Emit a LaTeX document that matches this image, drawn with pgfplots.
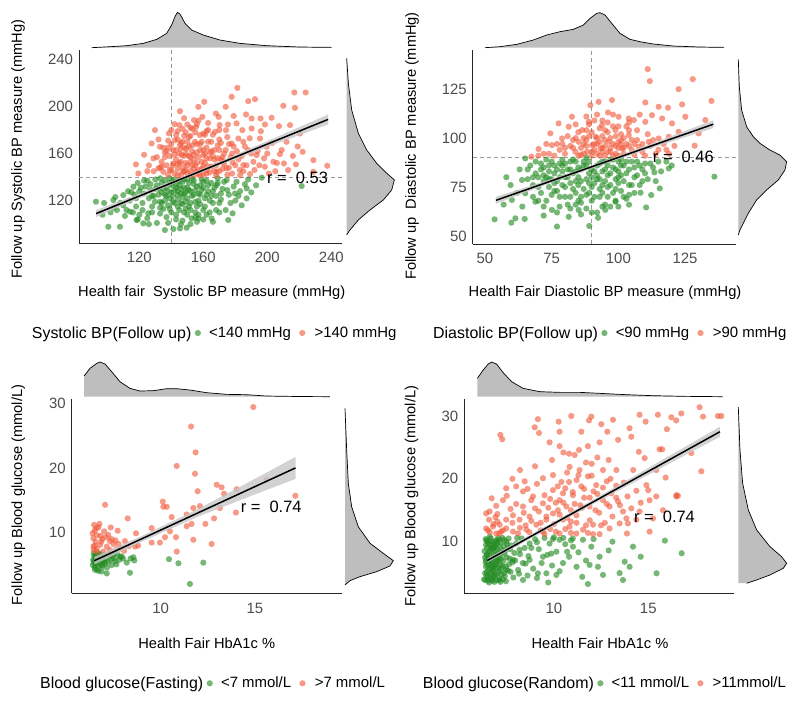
\documentclass[border=0pt]{standalone}
\usepackage{fontspec}
\setmainfont{Liberation Sans}
\usepackage{pgfplots}
\pgfplotsset{compat=1.18}
\definecolor{pgreen}{RGB}{34,139,34}
\definecolor{pred}{RGB}{240,90,60}
\definecolor{mgray}{RGB}{190,190,190}
\tikzset{rlab/.style={anchor=west, inner sep=0pt, font=\fontsize{16.5}{18}\selectfont}}
\newcommand{\lgt}[1]{\fontsize{16}{18}\selectfont #1}
\pgfplotsset{
  mainax/.style={scale only axis, anchor=south west, axis x line=bottom, axis y line=left,
    axis line style={-, line width=0.8bp, draw=black!85}, major tick length=0pt,
    tick label style={font=\fontsize{15}{17}\selectfont, text=black!70},
    /pgf/number format/assume math mode=true, clip mode=individual,
    label style={font=\fontsize{14.7}{16}\selectfont},
    xticklabel style={yshift=-6bp}, yticklabel style={xshift=-2.5bp},
    legend columns=-1,
    legend style={draw=none, fill=none, font=\fontsize{15}{17}\selectfont, anchor=west, inner sep=0pt,
      nodes={inner sep=0pt},
      /tikz/column 1/.style={column sep=0pt},
      /tikz/column 2/.style={column sep=3.4bp},
      /tikz/column 3/.style={column sep=8.2bp},
      /tikz/column 4/.style={column sep=8.2bp},
      /tikz/column 5/.style={column sep=9.2bp}},
    legend image code/.code={\draw[##1] plot coordinates {(0bp,0bp)};}},
  margax/.style={scale only axis, anchor=south west, hide axis, clip=false},
  scatG/.style={only marks, mark=*, color=pgreen, mark size=3.1bp, mark options={draw opacity=0, fill=pgreen, fill opacity=0.62}},
  scatR/.style={only marks, mark=*, color=pred, mark size=3.1bp, mark options={draw opacity=0, fill=pred, fill opacity=0.62}},
  band/.style={fill=black!22, draw=none, fill opacity=0.8, forget plot},
  regline/.style={black, line width=1.5bp, forget plot},
  refline/.style={black!40, dash pattern=on 4bp off 3bp, line width=0.6bp, forget plot},
  dens/.style={fill=mgray, draw=none},
  densline/.style={black, line width=0.7bp},
}
\begin{document}
\begin{tikzpicture}
\useasboundingbox (0bp,0bp) rectangle (800bp,705bp);

%================ Panel 1 =================
\begin{axis}[mainax, at={(79bp,462bp)}, width=263bp, height=193bp,
  xmin=82.3, xmax=246.7, ymin=84, ymax=248,
  xtick={120,160,200,240}, ytick={120,160,200,240},
  xlabel={Health fair\ \ Systolic BP measure (mmHg)},
  ylabel={Follow up Systolic BP measure (mmHg)},
  xlabel style={at={(axis description cs:0.5046,-0.259)}, anchor=center},
  ylabel style={at={(axis description cs:-0.232,0.487)}, anchor=center},
  legend style={at={(axis description cs:-0.1798,-0.4663)}}]
\addlegendimage{empty legend}\addlegendentry{\lgt{Systolic BP(Follow up)}}
\addplot[refline] coordinates {(140,84) (140,248)};
\addplot[refline] coordinates {(82.3,140) (246.7,140)};
\addplot[scatG] coordinates {
(92.9,119.1)(103.8,120.5)(110,124.7)(116.3,131.8)(100.6,97.8)(107.9,97.8)(114.2,110.6)(118.3,103.5)
(122.5,100.7)(125.6,109.2)(129.8,119.1)(136,95)(141.3,95.9)(145.4,96.4)(149.6,97)(152.7,104.9)
(156.9,104.9)(165.2,104.9)(175.6,103.5)(178.3,109.2)(187.1,121.9)(187.1,130.4)(179.8,126.1)(180.8,136)
(174.6,137.5)(168.3,133.2)(196.5,139.5)(221.5,132.4)
(130,130)(132,125)(134,135)(136,120)(138,128)(140,133)(142,118)(144,125)(146,130)(148,138)(150,122)
(152,128)(154,134)(156,115)(158,125)(160,131)(162,137)(164,120)(166,128)(168,124)(145,112)(140,110)
(135,113)(150,108)(143,104)(137,106)(155,110)(160,112)(170,118)(172,130)(176,125)(180,120)(126,122)
(124,132)(120,128)(118,115)(114,120)(112,112)(108,118)(128,115)(133,109)(147,117)(151,135)(157,120)
(159,138)(163,128)(139,139)(145,137)(153,139)(130,138)(136,137)(141,124)(149,127)(155,129)(142,129)
(147,123)(138,116)(125,105)(120,108)(131,101)(146,100)(156,102)(162,108)(174,112)(183,128)(186,134)
(143,134)(148,131)(152,118)(144,115)(139,122)(134,127)(128,124)(122,118)(117,125)(111,107)(106,112)
(141,136)(146,126)(150,131)(154,125)(158,133)(161,122)(165,135)(169,139)(171,126)(157,108)(149,113)
(137,131)(133,119)(127,134)(123,137)(119,135)(115,127)(104,114)(97,108)
(121,131)(123,126)(125,137)(127,129)(129,124)(131,133)(133,139)(135,130)(137,124)(139,135)(140,127)
(141,119)(142,138)(143,131)(144,121)(145,133)(146,118)(147,136)(148,126)(149,119)(150,138)(151,129)
(152,112)(153,124)(154,137)(155,119)(156,132)(157,126)(158,117)(159,129)(160,136)(161,115)(162,125)
(163,133)(164,110)(165,124)(166,118)(167,131)(168,112)(169,135)(171,121)(173,136)(175,129)(177,118)
(179,132)(182,124)(184,116)(188,138)(190,127)(193,133)(143,108)(147,103)(152,100)(138,101)(133,114)
(128,110)(118,122)(116,110)(113,128)(110,116)(105,123)(102,110)(98,118)(148,110)(155,106)(160,104)
(166,102)(170,110)(136,125)(134,118)(132,130)(144,128)(151,115)(139,113)(122,112)(119,104)(126,100)
};
\addlegendentry{<140 mmHg}
\addplot[scatR] coordinates {
(181.3,215.8)(216.9,211.9)(224,211.9)(177.7,208.2)(160.6,204)(192.3,206.2)(188.1,204.5)(210,200.6)
(217.3,198.9)(174,199.7)(156.9,199.7)(145.4,196)(167.9,194)(179,192)(186.7,193.2)(190.2,189.8)
(195.8,189.8)(202.7,190.4)(198.5,184.7)(207.3,183.3)(214.2,184.2)(150,184.7)(145,184.2)(154.2,188.4)
(159.4,191.2)(169.6,191.2)(170.2,184.2)(175.4,184.7)(180.8,185.6)(129.8,179.9)(138.5,177.1)(144,179.1)
(162.1,179.1)(155.4,182.7)(167.3,178.5)(174.2,179.9)(184.4,179.9)(190.2,181.3)(195.4,172.8)(177.7,168.6)
(181.9,172.8)(188.1,162.9)(193.3,158.7)(199.6,165.8)(207.9,159.5)(210.4,151.6)(217.9,150.8)(220.4,177.1)
(222.1,161.5)(228.8,154.4)(237.5,149.6)(228.8,144.5)(203.8,153)(198.5,148.8)(189.2,142.6)(182.9,146)
(178.3,152.5)(172.5,153)(164.2,155.9)(117.9,150.8)(119.4,143.1)(128.8,155.9)(132.9,165.8)(137.1,162.1)
(127.7,168.6)(142.3,171.4)(145.4,167.2)(149.6,164.3)(151.7,157.3)(154.8,170)(157.9,175.7)(160,158.7)
(146.5,158.7)(141.3,151.6)(135,144.5)(131.9,147.4)(147.5,144.5)(155.8,144.5)(162.1,146)(168.3,144.5)
(174.6,147.4)(185,150.2)(191.3,153)
(141,150)(143,155)(145,160)(147,148)(149,152)(151,158)(153,162)(155,150)(157,146)(159,153)(161,160)
(163,149)(142,143)(144,147)(146,153)(148,165)(150,170)(152,145)(154,155)(156,168)(158,142)(160,149)
(162,165)(164,144)(166,158)(168,150)(170,163)(172,147)(139,158)(137,150)(135,165)(133,148)(131,157)
(129,145)(146,142)(150,143)(155,142)(138,142)(152,175)(144,172)(140,168)(165,170)(148,158)(153,150)
(157,157)(160,142)(167,145)(171,155)(175,142)(178,160)(176,168)(182,155)(185,145)(195,150)(200,160)
(205,145)(212,170)(185,170)(190,160)(170,172)(163,180)(149,178)(156,185)(143,163)(136,157)(147,170)
(151,166)(158,163)(162,156)(154,147)(144,151)(149,146)(152,153)(156,161)(142,159)(146,164)(140,146)
(161,152)(165,162)(169,167)(148,175)(153,181)(159,170)(134,153)(167,155)(173,160)
(134,149)(136,161)(138,171)(139,146)(141,163)(143,176)(144,141.5)(145,152)(146,169)(147,181)(148,145)
(149,160)(150,150)(151,174)(152,141.5)(153,167)(154,159)(155,178)(156,152)(157,143)(158,168)(159,147)
(160,163)(161,176)(162,143)(163,170)(164,161)(165,149)(166,176)(167,163)(168,141.5)(169,156)(170,145)
(171,169)(172,157)(173,151)(174,163)(175,174)(176,148)(177,157)(178,143)(179,166)(180,150)(181,162)
(183,141.5)(184,158)(186,166)(187,150)(189,173)(192,146)(194,162)(196,179)(198,156)(201,143)(203,169)
(206,152)(209,163)(213,146)(216,158)(219,166)(142,185)(148,190)(157,188)(163,186)(170,180)(138,165)
(132,172)(126,150)(123,159)(125,145)(140,180)(152,182)(160,177)
};
\addlegendentry{>140 mmHg}
\addplot[band] coordinates {(93,106)(120,121.9)(145,136.4)(170,149.9)(200,165.4)(238,184.8)
 (238,193.2)(200,170.6)(170,153.1)(145,139)(120,125.9)(93,112)};
\addplot[regline] coordinates {(93,109) (238,189)};
\node[rlab] at (axis cs:199.8,139.3) {r =\ \ 0.53};
\end{axis}
\begin{axis}[margax, at={(79bp,657.3bp)}, width=263bp, height=43.33bp, xmin=82.3, xmax=246.7, ymin=0, ymax=130]
\addplot[dens] coordinates {(90.25,0)(101.7,3)(112.1,6)(122.5,13)(130.9,25)(137.1,43)(140.2,68)(142.3,93)
 (143.8,106)(145.4,101)(148.6,73)(152.7,53)(160,38)(170.4,23)(182.9,13)(199.6,6)(220.4,2)(240.25,1)(240.25,0)};
\addplot[densline] coordinates {(90.25,0)(101.7,3)(112.1,6)(122.5,13)(130.9,25)(137.1,43)(140.2,68)(142.3,93)
 (143.8,106)(145.4,101)(148.6,73)(152.7,53)(160,38)(170.4,23)(182.9,13)(199.6,6)(220.4,2)(240.25,1)};
\end{axis}
\begin{axis}[margax, at={(346.7bp,462bp)}, width=53.33bp, height=193bp, xmin=0, xmax=160, ymin=84, ymax=248]
\addplot[dens] coordinates {(0,240.9)(5,219.7)(15,197)(35,177.2)(60,163)(90,151.7)(120,143.3)(143,137.6)
 (135,129.1)(110,120.6)(70,112.1)(35,103.6)(10,95.1)(0,90.9)};
\addplot[densline] coordinates {(0,240.9)(5,219.7)(15,197)(35,177.2)(60,163)(90,151.7)(120,143.3)(143,137.6)
 (135,129.1)(110,120.6)(70,112.1)(35,103.6)(10,95.1)(0,90.9)};
\end{axis}

%================ Panel 2 =================
\begin{axis}[mainax, at={(472.7bp,461bp)}, width=263.3bp, height=194bp,
  xmin=45.4, xmax=144.1, ymin=45.9, ymax=145,
  xtick={50,75,100,125}, ytick={50,75,100,125},
  xlabel={Health Fair Diastolic BP measure (mmHg)},
  ylabel={Follow up\ \ Diastolic BP measure (mmHg)},
  xlabel style={at={(axis description cs:0.5025,-0.2526)}, anchor=center},
  ylabel style={at={(axis description cs:-0.2305,0.505)}, anchor=center},
  legend style={at={(axis description cs:-0.1508,-0.4588)}}]
\addlegendimage{empty legend}\addlegendentry{\lgt{Diastolic BP(Follow up)}}
\addplot[refline] coordinates {(90,45.9) (90,145)};
\addplot[refline] coordinates {(45.4,90) (144.1,90)};
\addplot[scatG] coordinates {
(53.6,58.5)(61.4,59)(64.9,58.7)(59.9,56.8)(77,54.8)(89.1,55.1)(92.4,59.3)(81.4,59.8)(72,60.4)(75.1,63.3)
(85.1,63.3)(95.1,63.3)(98.9,67.5)(110.4,64.6)(108.3,72.1)(112.3,70.9)(115.5,74.3)(113.5,82.5)(118.9,84.5)
(136,80.3)(59.6,76)(63.9,78.6)(65.1,89.6)(60.1,68.4)(65.1,71.8)(68.9,67.5)
(70,80)(72,85)(74,75)(76,82)(78,70)(80,87)(82,77)(84,72)(86,84)(88,79)(90,68)(92,86)(94,76)(96,81)(98,72)
(100,88)(102,78)(104,84)(106,80)(108,86)(71,72)(73,68)(75,88)(77,78)(79,83)(81,66)(83,89)(85,80)(87,74)
(89,82)(91,77)(93,70)(95,88)(97,65)(99,79)(101,73)(103,69)(105,76)(107,88)(110,82)(112,87)(115,88)(68,76)
(66,84)(69,88)(80,75)(85,76)(90,80)(95,84)(100,83)(92,62)(88,64)(84,66)(96,70)(78,65)
(72,78)(74,83)(76,73)(78,87)(80,80)(82,84)(84,78)(86,70)(88,86)(90,75)(92,81)(94,88)(96,75)(98,85)
(100,77)(102,86)(104,71)(91,83)(93,79)(87,88)(83,82)(79,76)(75,79)(71,87)(94,65)(89,72)(97,89)(101,81)
(106,85)(109,78)(103,88)(99,74)(86,67)(82,70)(77,84)(73,80)
(66,79)(67,86)(68,70)(69,82)(70,75)(71,84)(72,65)(73,89)(74,79)(75,71)(76,86)(77,73)(78,80)(79,89)(80,70)
(81,80)(82,88)(83,74)(84,83)(85,68)(86,78)(87,86)(88,71)(89,88)(90,84)(91,70)(92,79)(93,87)(94,72)(95,78)
(96,86)(97,76)(98,89)(99,68)(100,80)(101,86)(102,70)(103,82)(104,76)(105,88)(106,72)(107,81)(108,76)
(109,84)(110,87)(111,79)(113,85)(114,78)(116,83)(118,88)(120,86)(90,62)(86,61)(95,66)(100,65)(104,66)
(82,64)(77,62)(93,74)(97,82)(89,77)(85,85)(81,84)(76,77)(72,81)(68,80)(63,84)(62,72)(58,80)(57,66)(64,65)
(70,68)(99,84)(101,89)(94,83)(88,90)(84,88)(79,86)(74,86)
};
\addlegendentry{<90 mmHg}
\addplot[scatR] coordinates {
(111,135.2)(111.8,129.1)(127.9,130.1)(122.6,125)(134.9,119)(123.9,117.2)(118.6,115.5)(110.1,118.2)
(115.1,116)(97.6,119.4)(92.6,118.5)(89.5,116.8)(96.1,113.1)(100.1,110.9)(103.9,110)(105.8,109.2)
(110.1,108.3)(112.6,111.7)(116.4,110)(120.1,107.5)(125.1,110.9)(132.6,109.2)(130.1,102.4)(128.6,96.1)
(122.6,103.2)(118.9,100.7)(115.1,99.8)(111.4,98.1)(107.6,95.6)(82.6,110.9)(77.6,107.5)(74.5,102.4)
(70.1,94.4)(67.4,90.5)(75.1,96.4)(78.9,99.8)(81.4,105.8)(85.1,98.1)(86.4,104.1)(83.9,93)(88.9,108.3)
(91.4,100.7)(93.9,106.6)(96.4,98.1)(98.9,104.1)(101.4,94.7)(103.9,101.5)(93.3,94.7)(90.1,96.4)(88.3,93)
(86,95)(88,99)(90,103)(92,97)(94,101)(96,93)(98,106)(100,98)(102,92)(104,104)(87,92)(91,94)(95,96)(99,92)
(103,97)(97,100)(93,105)(89,107)(101,102)(105,94)(84,100)(82,96)(80,92)(78,94)(76,91)(107,99)(109,93)
(112,96)(94,109)(98,112)(92,92)(100,95)(106,91.5)(110,91)(114,92)(118,94)(95,91)(85,91)(72,92)(70,91)
(90,93)(94,95)(98,97)(102,100)(96,103)(92,100)(88,96)(104,96)(100,91)
(79,97)(81,101)(83,95)(85,103)(87,97)(89,101)(91,109)(93,98)(95,104)(97,95)(99,101)(101,97)(103,106)
(105,99)(107,104)(109,97)(111,102)(113,99)(115,94)(117,97)(119,92)(121,96)(88,111)(92,112)(96,108)
(100,106)(104,108)(108,112)(86,91.5)(90,91)(94,93)(98,91)(102,95)(106,97)(97,93)(93,91)(99,96)(101,99)
(95,99)(91,97)(87,100)(83,99)(80,95)(77,97)(74,92)(73,97)(84,107)(88,104)
};
\addlegendentry{>90 mmHg}
\addplot[band] coordinates {(54.1,66.4)(70,74.7)(90,84.6)(110,93.8)(135.6,105.1)
 (135.6,109.1)(110,96)(90,86)(70,76.9)(54.1,70)};
\addplot[regline] coordinates {(54.1,68.2) (135.6,107.1)};
\node[rlab] at (axis cs:112.9,90.6) {r =\ \ 0.46};
\end{axis}
\begin{axis}[margax, at={(472.7bp,657.3bp)}, width=263.3bp, height=43.33bp, xmin=45.4, xmax=144.1, ymin=0, ymax=130]
\addplot[dens] coordinates {(50,0)(55.6,3)(61.9,10)(68.1,23)(73.1,38)(78.1,48)(83.1,55)(86.9,68)(89.4,88)
 (91.9,103)(93.1,105)(95,98)(97.5,73)(100.6,43)(104.4,25)(108.1,18)(113.1,11)(120.6,5)(130.6,2)(139.6,1)(139.6,0)};
\addplot[densline] coordinates {(50,0)(55.6,3)(61.9,10)(68.1,23)(73.1,38)(78.1,48)(83.1,55)(86.9,68)(89.4,88)
 (91.9,103)(93.1,105)(95,98)(97.5,73)(100.6,43)(104.4,25)(108.1,18)(113.1,11)(120.6,5)(130.6,2)(139.6,1)};
\end{axis}
\begin{axis}[margax, at={(738.3bp,461bp)}, width=53.33bp, height=194bp, xmin=0, xmax=160, ymin=45.9, ymax=145]
\addplot[dens] coordinates {(0,140.2)(3,126.2)(10,114.3)(25,105.8)(45,100.7)(65,97.3)(95,93.9)(125,91.3)
 (145,87.9)(140,83.7)(120,78.6)(85,73.5)(55,68.4)(30,61.6)(15,56.5)(5,53.1)(0,50.5)};
\addplot[densline] coordinates {(0,140.2)(3,126.2)(10,114.3)(25,105.8)(45,100.7)(65,97.3)(95,93.9)(125,91.3)
 (145,87.9)(140,83.7)(120,78.6)(85,73.5)(55,68.4)(30,61.6)(15,56.5)(5,53.1)(0,50.5)};
\end{axis}

%================ Panel 3 =================
\begin{axis}[mainax, at={(71.7bp,111.7bp)}, width=270bp, height=194bp,
  xmin=5.28, xmax=19.6, ymin=0.63, ymax=30.6,
  xtick={10,15}, ytick={10,20,30},
  xlabel={Health Fair HbA1c \%},
  ylabel={Follow up Blood glucose (mmol/L)},
  xlabel style={at={(axis description cs:0.5,-0.2577)}, anchor=center},
  ylabel style={at={(axis description cs:-0.1978,0.507)}, anchor=center},
  legend style={at={(axis description cs:-0.1174,-0.4639)}}]
\addlegendimage{empty legend}\addlegendentry{\lgt{Blood glucose(Fasting)}}
\addplot[scatG] coordinates {
(11.55,2.07)(8.37,3.8)(10.44,5.9)(10.94,5.27)(12.26,5.37)(8.55,6.2)(8.2,5.37)(7.93,6.3)(7.14,3.7)(6.87,4.0)
(6.52,4.25)(6.4,5.0)(6.45,5.5)(6.5,6.0)(6.5,4.6)(6.55,6.5)(6.6,5.2)(6.65,4.3)(6.7,5.8)(6.75,6.8)(6.8,5.0)
(6.85,6.2)(6.9,4.8)(6.95,5.6)(7.0,6.5)(7.05,5.2)(7.1,6.0)(7.2,5.5)(7.3,6.4)(7.4,5.0)(7.5,6.0)(7.6,5.6)
(7.7,6.6)(7.8,5.8)(6.45,6.8)(6.6,6.3)(6.7,4.1)(6.5,5.3)(6.9,5.9)(7.15,4.6)(7.35,5.8)(8.0,6.0)(8.4,6.0)(8.6,5.7)
(6.42,5.8)(6.55,4.9)(6.62,5.6)(6.72,6.1)(6.82,5.4)(6.95,6.3)(7.25,6.7)(7.45,6.4)(6.48,6.4)(6.68,6.6)
(6.58,5.9)(6.78,6.5)(7.02,5.5)(7.55,6.8)(7.85,6.3)(6.88,5.0)(7.65,5.1)
};
\addlegendentry{<7 mmol/L}
\addplot[scatR] coordinates {
(14.91,29.4)(11.61,26.4)(11.85,22.4)(10.85,20.3)(11.82,19.1)(12.97,17.4)(13.23,17.0)(14.03,16.7)(13.36,16.0)
(11.96,16.4)(15.62,18.2)(17.14,15.7)(13.99,13.1)(13.14,13.8)(12.83,12.2)(12.37,11.35)(11.73,13.8)(12.08,14.1)
(11.38,12.8)(11.64,11.35)(11.38,11.0)(10.58,12.4)(10.11,14.8)(10.32,14.0)(10.14,14.0)(12.7,8.25)(11.73,8.9)
(10.85,7.07)(10.81,9.3)(10.49,10.2)(10.23,9.3)(9.96,8.46)(9.52,8.46)(9.52,10.7)(8.69,9.9)(8.64,7.84)(8.25,12.2)
(7.72,10.3)(7.35,10.8)(7.05,14.3)(6.47,11.2)(6.75,11.35)(6.57,10.7)(6.39,9.9)(6.43,9.13)(6.82,9.5)(7.22,9.65)
(6.43,7.84)(6.78,8.1)(7.14,7.84)(7.49,8.25)(7.76,8.25)(6.96,7.07)(6.61,7.07)(7.31,7.3)(7.67,7.43)(8.06,7.2)
(6.5,8.0)(6.6,7.5)(6.9,9.0)(7.0,10.2)(6.7,10.8)(6.45,7.3)(6.55,8.6)(7.3,8.7)(7.9,7.6)(8.3,7.9)
(6.62,9.6)(6.85,8.6)(7.1,9.3)(7.4,9.0)(7.6,8.8)(8.1,8.7)(8.8,8.0)(6.5,10.3)
};
\addlegendentry{>7 mmol/L}
\addplot[band] coordinates {(6.48,5.07)(9,8.6)(12,12.48)(15,15.91)(17.15,18.3)
 (17.15,21.7)(15,18.31)(12,13.68)(9,9.5)(6.48,6.27)};
\addplot[regline] coordinates {(6.48,5.67) (17.15,20)};
\node[rlab] at (axis cs:14.24,13.93) {r =\ \ 0.74};
\end{axis}
\begin{axis}[margax, at={(71.7bp,308.3bp)}, width=270bp, height=43.33bp, xmin=5.28, xmax=19.6, ymin=0, ymax=130]
\addplot[dens] coordinates {(5.94,0)(5.94,62)(6.25,85)(6.61,100)(6.78,104)(7.05,98)(7.4,75)(7.84,45)(8.37,25)
 (8.9,17)(9.61,18)(10.32,24)(10.85,24)(11.55,20)(12.44,12)(13.5,7)(14.56,6)(15.62,2)(17.38,0.5)(18.97,0)};
\addplot[densline] coordinates {(5.94,62)(6.25,85)(6.61,100)(6.78,104)(7.05,98)(7.4,75)(7.84,45)(8.37,25)
 (8.9,17)(9.61,18)(10.32,24)(10.85,24)(11.55,20)(12.44,12)(13.5,7)(14.56,6)(15.62,2)(17.38,0.5)(18.97,0)};
\end{axis}
\begin{axis}[margax, at={(345bp,111.7bp)}, width=53.33bp, height=194bp, xmin=0, xmax=160, ymin=0.63, ymax=30.6]
\addplot[dens] coordinates {(0,29.2)(5,22.8)(10,17.6)(20,14)(40,10.9)(75,8.36)(115,6.8)(145,5.67)(135,4.85)
 (95,3.97)(45,3.2)(15,2.58)(0,1.92)};
\addplot[densline] coordinates {(0,29.2)(5,22.8)(10,17.6)(20,14)(40,10.9)(75,8.36)(115,6.8)(145,5.67)(135,4.85)
 (95,3.97)(45,3.2)(15,2.58)(0,1.92)};
\end{axis}

%================ Panel 4 =================
\begin{axis}[mainax, at={(464.3bp,111.7bp)}, width=270bp, height=194bp,
  xmin=5.25, xmax=19.56, ymin=1.78, ymax=32.66,
  xtick={10,15}, ytick={10,20,30},
  xlabel={Health Fair HbA1c \%},
  ylabel={Follow up Blood glucose (mmol/L)},
  xlabel style={at={(axis description cs:0.5026,-0.2577)}, anchor=center},
  ylabel style={at={(axis description cs:-0.1948,0.5015)}, anchor=center},
  legend style={at={(axis description cs:-0.1541,-0.4639)}}]
\addlegendimage{empty legend}\addlegendentry{\lgt{Blood glucose(Random)}}
\addplot[scatG] coordinates {
(11.8,3.26)(15.44,4.97)(15.88,10.16)(16.77,8.15)(14.19,9.2)(13.75,6.8)(13.48,5.0)(14.01,6.0)(13.66,3.9)
(12.6,4.7)(12.33,6.0)(11.89,6.3)(12.42,7.6)(11.98,9.2)(11.54,10.3)(11.01,9.2)(10.8,7.6)(10.48,6.6)(10.13,4.7)
(9.6,4.96)(9.15,4.96)(8.36,3.9)(8.71,7.1)(9.42,7.6)(9.86,8.1)(10.13,8.4)(9.77,9.7)(10.3,10.3)(8.71,9.7)
(8.18,8.7)(7.83,7.1)(7.47,5.5)(7.12,3.9)
(6.3,4)(6.35,5)(6.4,6)(6.4,7)(6.45,8)(6.45,9)(6.5,10)(6.5,4.5)(6.55,5.5)(6.55,6.5)(6.6,7.5)(6.6,8.5)
(6.65,9.5)(6.65,10.5)(6.7,4)(6.7,5)(6.75,6)(6.75,7)(6.8,8)(6.8,9)(6.85,10)(6.85,3.6)(6.9,4.8)(6.9,5.8)
(6.95,6.8)(6.95,7.8)(7.0,8.8)(7.0,9.8)(7.05,10.6)(7.1,4.2)(7.1,5.3)(7.15,6.3)(7.2,7.3)(7.25,8.3)(7.3,9.3)
(7.35,10.3)(7.4,4.5)(7.45,6.0)(7.5,7.5)(7.55,9.0)(7.6,10.5)(7.7,5.2)(7.8,6.7)(7.9,8.2)(8.0,9.7)(6.35,7.5)
(6.4,9.5)(6.5,3.8)(6.6,10.8)(6.7,6.3)(6.8,4.4)(6.9,9.2)(7.0,7.1)(7.2,5.7)(7.3,4.0)(6.45,5.2)(6.55,8.2)
(6.75,8.8)(6.85,6.2)(6.95,10.2)(8.2,8.0)(8.5,6.5)(8.8,9.0)(9.0,10.4)(8.3,10.5)(9.5,10.6)(10.0,10.7)(10.5,10.6)
(11.0,10.5)(6.38,6.7)(6.52,7.3)(6.62,5.8)(6.72,9.1)(6.88,7.4)(7.05,5.9)(7.18,9.8)(7.38,8.1)(7.62,6.4)
(6.42,10.2)(6.58,4.2)(6.78,5.4)(7.08,6.9)(7.28,6.1)(7.48,10.0)(7.68,8.8)(8.1,5.5)(8.6,4.6)(9.2,8.8)
(9.9,6.2)(10.6,9.6)(11.3,8.3)(11.7,7.0)(12.1,10.4)(12.9,8.6)(14.6,7.6)(13.1,10.0)
(6.32,8.5)(6.36,3.9)(6.38,10.4)(6.42,4.6)(6.44,7.8)(6.47,6.2)(6.52,9.7)(6.56,3.5)(6.58,7.0)(6.63,8.9)
(6.64,4.8)(6.68,6.8)(6.71,10.0)(6.73,3.8)(6.76,5.6)(6.79,7.6)(6.83,9.6)(6.86,4.6)(6.89,8.4)(6.92,6.4)
(6.97,3.9)(6.99,9.5)(7.02,5.0)(7.06,8.0)(7.09,10.3)(7.12,7.6)(7.16,3.6)(7.19,8.8)(7.22,4.8)(7.27,10.6)
(7.31,6.9)(7.36,5.0)(7.42,8.6)(7.46,3.7)(7.52,9.6)(7.57,5.4)(7.66,7.3)(7.74,9.4)(7.85,4.3)(7.95,7.0)
(8.05,10.6)(8.15,4.9)(8.35,6.6)(8.45,9.0)(8.65,7.7)(8.9,5.7)(9.1,9.9)(9.35,6.6)(9.65,7.9)(9.95,10.4)
(10.3,5.3)(10.7,8.4)(11.2,6.0)(11.5,4.4)(10.9,10.2)(9.7,3.5)(9.1,4.2)
};
\addlegendentry{<11 mmol/L}
\addplot[scatR] coordinates {
(17.72,31.4)(18.69,30.0)(18.87,30.0)(17.9,29.9)(16.75,30.4)(16.22,29.8)(15.51,30.2)(14.54,30.2)(14.86,29.1)
(15.99,27.9)(16.48,29.3)(14.01,28.05)(13.13,29.4)(11.98,29.9)(11.86,29.3)(12.51,28.7)(12.83,27.5)(10.92,30.0)
(10.25,29.1)(9.15,29.5)(8.98,28.2)(9.21,27.3)(7.16,27.0)(7.26,26.3)(10.3,27.5)(11.45,27.5)(9.77,25.8)
(10.3,25.2)(10.8,24.0)(11.33,24.6)(11.8,25.2)(12.42,25.8)(13.4,26.2)(14.1,26.7)(14.5,24.3)(14.81,23.3)
(15.6,24.7)(15.74,24.7)(17.28,24.1)(17.81,21.2)(16.57,17.3)(16.49,17.2)(15.92,20.2)(15.42,21.4)(14.9,19.0)
(14.37,18.1)(15.42,17.2)(15.07,16.6)(14.1,15.3)(14.54,14.8)(15.25,13.7)(13.84,13.7)(13.87,11.3)(12.95,12.1)
(13.48,12.9)(12.42,11.2)(12.07,12.7)(11.54,11.9)(11.19,14.2)(11.89,15.6)(12.6,16.6)(13.04,17.7)(12.24,19.0)
(11.8,20.4)(12.6,21.4)(11.36,21.4)(10.83,21.9)(13.31,21.4)(11.45,18.8)(11.01,17.4)(10.66,15.6)(10.3,16.6)
(9.95,18.2)(9.42,20.1)(9.95,20.6)(8.45,19.6)(8.0,18.8)(7.47,18.5)(8.36,18.0)(8.89,17.2)(9.42,16.1)(8.36,15.6)
(7.3,16.6)(6.94,15.7)(6.59,14.8)(6.41,14.5)(6.56,13.5)(6.41,12.1)(6.77,12.4)(7.12,12.7)(7.47,13.5)(7.83,14.2)
(8.18,13.5)(8.71,14.0)(9.07,12.7)(9.6,13.5)(9.95,14.5)(10.48,13.5)(10.83,12.4)(11.19,11.3)(10.3,11.3)
(9.42,11.6)(8.54,11.9)(7.83,11.6)(6.94,11.3)(7.47,12.1)(12.07,11.2)(10.21,15.0)(10.48,17.7)(12.95,15.6)
(13.4,16.4)(13.66,14.8)(14.37,13.5)(15.78,15.0)(16.49,17.4)(15.07,11.6)(13.92,12.9)
(10.1,16.2)(10.6,18.5)(11.1,16.0)(11.6,17.0)(12.1,18.0)(12.4,14.6)(12.8,19.6)(11.2,19.8)(10.7,21.0)
(11.7,22.6)(12.3,23.4)(10.9,13.2)(9.2,14.8)(8.8,16.6)(9.7,15.4)(10.4,19.5)(11.9,13.4)(12.7,13.0)(13.3,18.9)
(7.0,13.2)(7.7,15.2)(8.5,12.6)(9.3,13.0)(6.6,11.5)(7.2,11.6)(8.1,11.3)(9.8,12.0)(10.9,11.4)(11.5,15.4)
(6.8,12.8)(7.0,14.4)(7.3,11.8)(7.5,17.3)(7.8,13.0)(8.0,16.0)(8.2,12.2)(8.4,14.6)(8.6,18.4)(8.8,13.3)
(9.0,15.3)(9.1,19.2)(9.3,11.8)(9.5,17.4)(9.6,14.0)(9.8,16.8)(10.0,12.8)(10.2,18.8)(10.3,14.3)(10.5,16.2)
(10.6,12.0)(10.8,19.5)(10.9,15.0)(11.0,17.9)(11.2,13.0)(11.3,20.6)(11.4,15.8)(11.6,18.4)(11.7,12.6)
(11.9,17.0)(12.0,20.5)(12.2,15.0)(12.3,17.6)(12.5,12.6)(12.6,18.6)(12.8,16.0)(13.0,20.0)(13.1,14.0)
(13.3,17.0)(13.5,15.8)(13.7,19.4)(13.9,17.2)(14.2,21.4)(14.6,16.2)(15.0,18.2)(9.0,22.0)(9.9,23.0)
(10.5,24.2)(11.1,23.8)(12.0,22.4)(12.9,23.0)(8.2,21.4)(7.8,20.0)(6.7,16.9)(6.5,11.8)(7.1,11.3)(6.9,13.9)
(8.7,11.5)(9.5,11.2)(10.1,11.6)(10.7,13.8)(11.8,11.4)
};
\addlegendentry{>11mmol/L}
\addplot[band] coordinates {(6.47,6.65)(9,10.91)(12,15.84)(15,20.63)(18.8,26.7)
 (18.8,28.3)(15,21.73)(12,16.54)(9,11.51)(6.47,7.35)};
\addplot[regline] coordinates {(6.47,7.0) (18.8,27.5)};
\node[rlab] at (axis cs:14.24,13.98) {r =\ \ 0.74};
\end{axis}
\begin{axis}[margax, at={(464.3bp,308.3bp)}, width=270bp, height=43.33bp, xmin=5.25, xmax=19.56, ymin=0, ymax=130]
\addplot[dens] coordinates {(5.94,0)(5.94,55)(6.25,80)(6.52,98)(6.7,104)(6.96,98)(7.31,72)(7.76,45)(8.37,25)
 (9.26,15)(10.32,13)(11.38,13)(12.44,10)(13.85,6)(15.26,3)(17.03,1)(18.94,0)};
\addplot[densline] coordinates {(5.94,55)(6.25,80)(6.52,98)(6.7,104)(6.96,98)(7.31,72)(7.76,45)(8.37,25)
 (9.26,15)(10.32,13)(11.38,13)(12.44,10)(13.85,6)(15.26,3)(17.03,1)(18.94,0)};
\end{axis}
\begin{axis}[margax, at={(738.3bp,111.7bp)}, width=53.33bp, height=194bp, xmin=0, xmax=160, ymin=1.78, ymax=32.66]
\addplot[dens] coordinates {(0,31.4)(5,24.6)(13,19.3)(30,15.05)(55,11.86)(95,9.2)(130,7.6)(145,6.56)(135,5.76)
 (95,4.7)(55,3.9)(25,3.38)(0,3.38)};
\addplot[densline] coordinates {(0,31.4)(5,24.6)(13,19.3)(30,15.05)(55,11.86)(95,9.2)(130,7.6)(145,6.56)(135,5.76)
 (95,4.7)(55,3.9)(25,3.38)};
\end{axis}
\end{tikzpicture}
\end{document}
